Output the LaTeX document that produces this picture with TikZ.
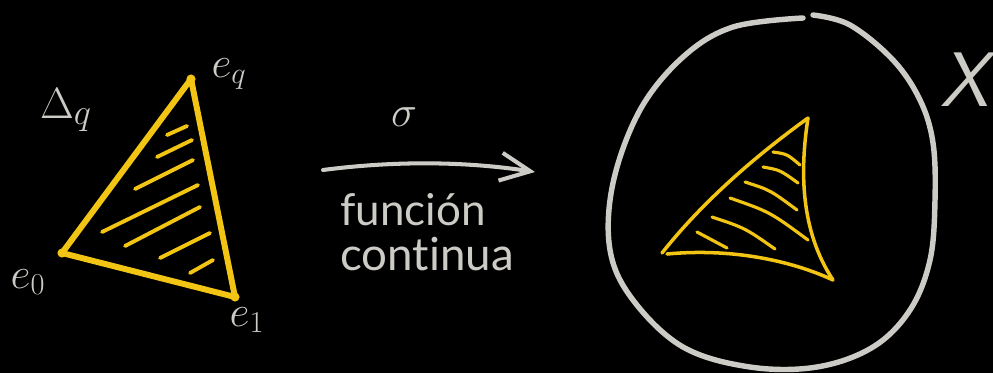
\documentclass[tikz,border=0pt]{standalone}
\usepackage{fontspec}
\setmainfont{Lato}[Ligatures=CommonOff]
\usepackage{tikz}
\usetikzlibrary{arrows.meta}

\definecolor{chalk}{RGB}{205,203,197}
\definecolor{marker}{RGB}{242,196,19}

\begin{document}
\begin{tikzpicture}[
  x=0.02cm, y=-0.02cm,
  line cap=round, line join=round,
  edge/.style={draw=marker, line width=3.4pt},
  hatch/.style={draw=marker, line width=2.2pt},
  thin edge/.style={draw=marker, line width=2pt},
  outline/.style={draw=chalk, line width=3.1pt},
  every node/.style={text=chalk, inner sep=0pt}
]
% background
\fill[black] (0,0) rectangle (993,373);
\useasboundingbox (0,0) rectangle (993,373);

% standard simplex
\coordinate (e0) at (62,253);
\coordinate (eq) at (191,79);
\coordinate (e1) at (235,297);
\draw[edge] (e0) -- (eq) -- (e1) -- cycle;
\foreach \v in {e0,eq,e1}
  \fill[marker] (\v) circle (2.6pt);
\draw[hatch] (167,135) -- (187,126);
\draw[hatch] (157,157) -- (192,140);
\draw[hatch] (135,189) -- (193,160);
\draw[hatch] (102,232) -- (198,185);
\draw[hatch] (125,246) -- (200,207);
\draw[hatch] (160,258) -- (210,233);
\draw[hatch] (190,273) -- (213,260);

\node (simplex) at (66,110) {\fontsize{28}{32}\selectfont$\Delta_q$};
\node (lq) at (229,74) {\fontsize{26}{30}\selectfont$e_q$};
\node (l0) at (28,282) {\fontsize{26}{30}\selectfont$e_0$};
\node (l1) at (247,320) {\fontsize{26}{30}\selectfont$e_1$};

% the map
\coordinate (from) at (323,170);
\coordinate (to) at (535,172);
\draw[outline, line width=2.3pt, -{Straight Barb[length=0.6cm, width=0.56cm]}]
  (from) .. controls (400,160) and (470,162) .. (to);
\node (sigma) at (404,117) {\fontsize{36}{40}\selectfont$\sigma$};
\node[anchor=base west] (fun) at (340,225) {\fontsize{25}{30}\selectfont función};
\node[anchor=base west] (cont) at (340,270) {\fontsize{26}{30}\selectfont continua};

% the space X
\draw[outline] plot[smooth, tension=0.6] coordinates {
  (813,15) (850,25) (893,60) (920,100) (933,143) (935,200) (930,260)
  (910,310) (873,347) (817,367) (750,367) (683,347) (633,300) (610,250)
  (613,183) (640,110) (683,57) (733,27) (803,18)};
\node (space) at (965,80) {\fontsize{44}{48}\selectfont\sffamily\itshape X};

% image of the simplex
\coordinate (s0) at (662,253);
\coordinate (sq) at (808,118);
\coordinate (s1) at (833,280);
\draw[thin edge] (s0) .. controls (700,205) and (750,160) .. (sq)
  .. controls (800,170) and (800,230) .. (s1)
  .. controls (790,260) and (730,248) .. (667,254);
\draw[hatch, line width=1.8pt] (773,152) .. controls (787,154) .. (800,165);
\draw[hatch, line width=1.8pt] (763,167) .. controls (780,170) .. (798,183);
\draw[hatch, line width=1.8pt] (745,182) .. controls (770,190) .. (797,210);
\draw[hatch, line width=1.8pt] (730,198) .. controls (770,212) .. (808,240);
\draw[hatch, line width=1.8pt] (712,217) .. controls (745,228) .. (775,249);
\draw[hatch, line width=1.8pt] (697,232) -- (727,248);
\end{tikzpicture}
\end{document}
